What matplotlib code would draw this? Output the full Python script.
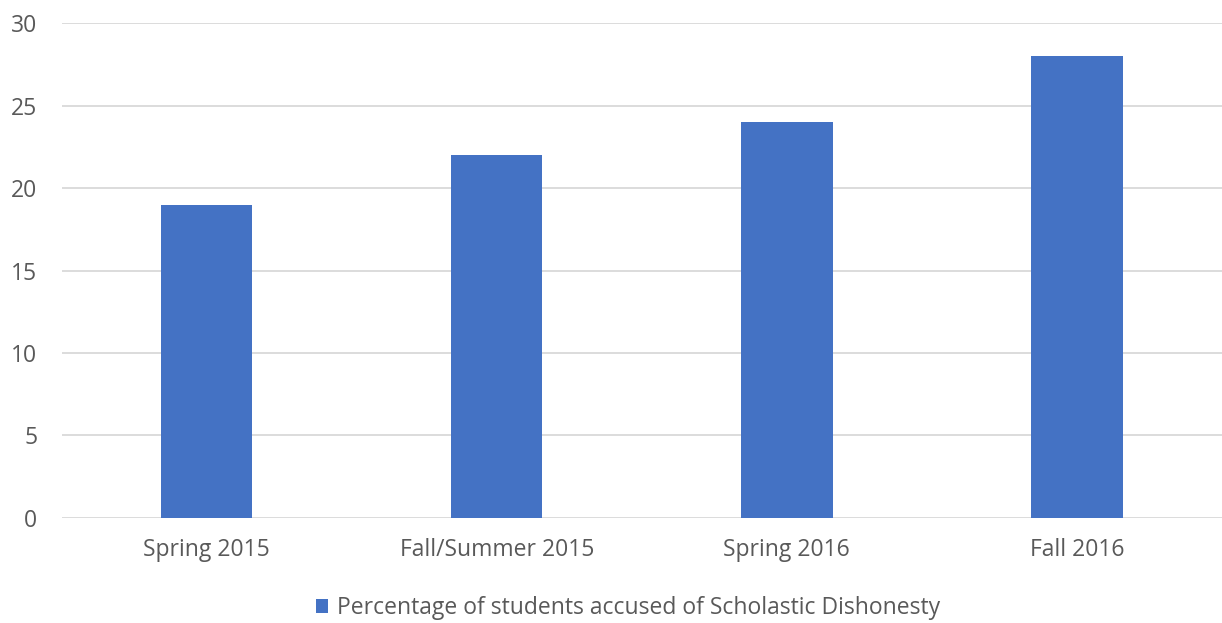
import matplotlib
matplotlib.use("Agg")
import matplotlib.pyplot as plt

categories = ["Spring 2015", "Fall/Summer 2015", "Spring 2016", "Fall 2016"]
values = [19, 22, 24, 28]
yticks = [0, 5, 10, 15, 20, 25, 30]
series_name = "Percentage of students accused of Scholastic Dishonesty"

plt.rcParams['font.family'] = ['Open Sans', 'DejaVu Sans']
text_color = "#595959"
bar_color = "#4472C4"
grid_color = "#D9D9D9"

fig = plt.figure(figsize=(12.22, 6.23), dpi=100)
ax = fig.add_axes([61.5/1222, 105.3/623, 1 - 61.5/1222, (517.7-23.3)/623])

x = range(len(categories))
ax.bar(x, values, width=0.315, color=bar_color, label=series_name, zorder=3)
ax.set_xlim(-0.5, len(categories) - 0.5)
ax.set_ylim(0, 30)
ax.set_yticks(yticks)
ax.set_xticks(list(x))
ax.set_xticklabels(categories)
ax.yaxis.grid(True, color=grid_color, linewidth=1.3, zorder=0)
for s in ax.spines.values():
    s.set_visible(False)
ax.tick_params(axis='both', length=0, labelsize=16.5, labelcolor=text_color)
ax.tick_params(axis='y', pad=17.5)
ax.tick_params(axis='x', pad=14.5)
for lbl in ax.get_yticklabels():
    lbl.set_horizontalalignment('right')

fig.legend(loc='center', bbox_to_anchor=(628/1222, 1 - 608/623), frameon=False,
           fontsize=16.5, labelcolor=text_color, handlelength=0.55, handleheight=0.55,
           handletextpad=0.4)

fig.savefig("out.png", dpi=100, facecolor="white")
